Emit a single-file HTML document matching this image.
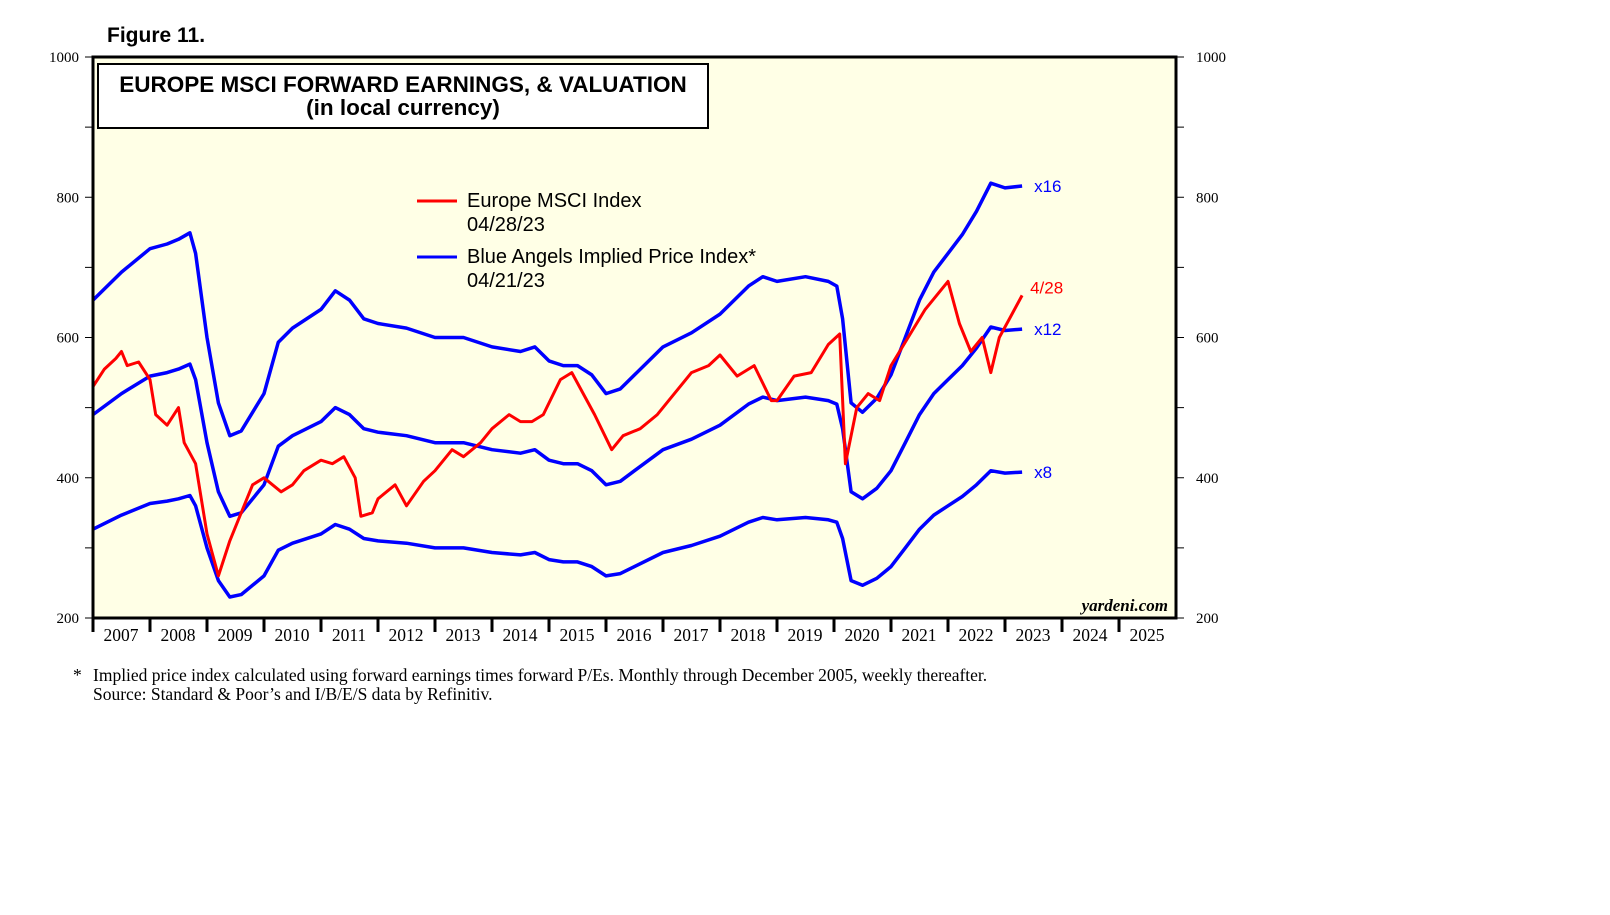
<!DOCTYPE html>
<html><head><meta charset="utf-8">
<style>
body{margin:0;background:#fff;width:1610px;height:910px;overflow:hidden;font-family:"Liberation Sans",sans-serif}
</style></head>
<body>
<svg id="chart" width="1610" height="910" xmlns="http://www.w3.org/2000/svg">
<text x="107" y="42" font-size="21" font-weight="bold">Figure 11.</text>
<rect x="93" y="57" width="1083" height="561" fill="#ffffe6"/>
<g id="grid"></g>
<g id="series"></g>
<rect x="93" y="57" width="1083" height="561" fill="none" stroke="#000" stroke-width="3"/>
<rect x="98" y="64" width="610" height="64" fill="#fff" stroke="#000" stroke-width="2"/>
<text x="403" y="92" font-size="22.5" font-weight="bold" text-anchor="middle">EUROPE MSCI FORWARD EARNINGS, &amp; VALUATION</text>
<text x="403" y="115" font-size="22.5" font-weight="bold" text-anchor="middle">(in local currency)</text>
<g>
<line x1="417" y1="201" x2="457" y2="201" stroke="#f00" stroke-width="3"/>
<text x="467" y="207" font-size="20">Europe MSCI Index</text>
<text x="467" y="231" font-size="20">04/28/23</text>
<line x1="417" y1="257" x2="457" y2="257" stroke="#00f" stroke-width="3"/>
<text x="467" y="263" font-size="20">Blue Angels Implied Price Index*</text>
<text x="467" y="287" font-size="20">04/21/23</text>
</g>
<text x="1168" y="611" font-size="17" font-weight="bold" font-style="italic" font-family="Liberation Serif,serif" text-anchor="end">yardeni.com</text>
<text x="73" y="681" font-size="17.5" font-family="Liberation Serif,serif">*</text>
<text x="93" y="681" font-size="17.5" font-family="Liberation Serif,serif">Implied price index calculated using forward earnings times forward P/Es. Monthly through December 2005, weekly thereafter.</text>
<text x="93" y="700" font-size="17.5" font-family="Liberation Serif,serif">Source: Standard &amp; Poor’s and I/B/E/S data by Refinitiv.</text>
</svg>
<script>
const yTicks=[200,400,600,800,1000];
const years=[2007,2008,2009,2010,2011,2012,2013,2014,2015,2016,2017,2018,2019,2020,2021,2022,2023,2024,2025];
const multiples=[8,12,16];
const multLabels=["x8","x12","x16"];
const blueT=[2007.0,2007.5,2008.0,2008.3,2008.5,2008.7,2008.8,2009.0,2009.2,2009.4,2009.6,2010.0,2010.25,2010.5,2011.0,2011.25,2011.5,2011.75,2012.0,2012.5,2013.0,2013.5,2014.0,2014.5,2014.75,2015.0,2015.25,2015.5,2015.75,2016.0,2016.25,2016.5,2017.0,2017.5,2018.0,2018.5,2018.75,2019.0,2019.5,2019.9,2020.05,2020.15,2020.3,2020.5,2020.75,2021.0,2021.25,2021.5,2021.75,2022.0,2022.25,2022.5,2022.75,2023.0,2023.3];
const blueX12=[490,520,545,550,555,562,540,450,380,345,350,390,445,460,480,500,490,470,465,460,450,450,440,435,440,425,420,420,410,390,395,410,440,455,475,505,515,510,515,510,505,470,380,370,385,410,450,490,520,540,560,585,615,610,612];
const redT=[2007.0,2007.2,2007.4,2007.5,2007.6,2007.8,2008.0,2008.1,2008.3,2008.5,2008.6,2008.8,2009.0,2009.1,2009.2,2009.4,2009.6,2009.8,2010.0,2010.3,2010.5,2010.7,2011.0,2011.2,2011.4,2011.6,2011.7,2011.9,2012.0,2012.3,2012.5,2012.8,2013.0,2013.3,2013.5,2013.8,2014.0,2014.3,2014.5,2014.7,2014.9,2015.2,2015.4,2015.6,2015.8,2016.1,2016.3,2016.6,2016.9,2017.2,2017.5,2017.8,2018.0,2018.3,2018.6,2018.9,2019.0,2019.3,2019.6,2019.9,2020.1,2020.2,2020.4,2020.6,2020.8,2021.0,2021.3,2021.6,2021.8,2022.0,2022.2,2022.4,2022.6,2022.75,2022.9,2023.1,2023.3];
const redV=[530,555,570,580,560,565,540,490,475,500,450,420,320,290,260,310,350,390,400,380,390,410,425,420,430,400,345,350,370,390,360,395,410,440,430,450,470,490,480,480,490,540,550,520,490,440,460,470,490,520,550,560,575,545,560,510,510,545,550,590,605,420,500,520,510,560,600,640,660,680,620,580,600,550,600,630,660];

const X0=93,X1=1176,Y0=618,Y1=57;
const xs=t=>X0+(t-2007)*(X1-X0)/19;
const ys=v=>Y0-(v-200)*(Y0-Y1)/800;
const NS="http://www.w3.org/2000/svg";
const svg=document.getElementById('chart'),grid=document.getElementById('grid'),ser=document.getElementById('series');
function mk(tag,attrs,parent){const e=document.createElementNS(NS,tag);for(const k in attrs)e.setAttribute(k,attrs[k]);parent.appendChild(e);return e;}
for(let v=200;v<=1000;v+=100){
  const y=ys(v);
  const l=mk('line',{x1:X0-8,x2:X0,y1:y,y2:y,stroke:'#000','stroke-width':1},grid);
  
  
  const r=mk('line',{x1:X1,x2:X1+8,y1:y,y2:y,stroke:'#000','stroke-width':1},grid);
  
  
}
yTicks.forEach(v=>{
  const y=ys(v);
  const a=mk('text',{x:X0-14,y:y+5,'font-size':15,'font-family':'Liberation Serif,serif','text-anchor':'end'},svg);a.textContent=v;
  
  
  const b=mk('text',{x:X1+20,y:y+5,'font-size':15,'font-family':'Liberation Serif,serif'},svg);b.textContent=v;
  
  
});
years.forEach(yr=>{
  const x=xs(yr);
  const t=mk('line',{x1:x,x2:x,y1:Y0,y2:Y0+14,stroke:'#000','stroke-width':3},svg);
  
  
  const lb=mk('text',{x:x+28,y:Y0+23,'font-size':17.5,'font-family':'Liberation Serif,serif','text-anchor':'middle'},svg);lb.textContent=yr;
  
  
});
multiples.forEach((m,i)=>{
  const pts=blueT.map((t,j)=>xs(t).toFixed(1)+','+ys(blueX12[j]*m/12).toFixed(1)).join(' ');
  const p=mk('polyline',{points:pts,fill:'none',stroke:'#00f','stroke-width':3.5,'stroke-linejoin':'round'},ser);
  
  
  const last=blueX12[blueX12.length-1]*m/12;
  const tx=mk('text',{x:xs(blueT[blueT.length-1])+12,y:ys(last)+6,'font-size':17,fill:'#00f'},svg);tx.textContent=multLabels[i];
  
  
});
const rp=mk('polyline',{points:redT.map((t,j)=>xs(t).toFixed(1)+','+ys(redV[j]).toFixed(1)).join(' '),fill:'none',stroke:'#f00','stroke-width':3,'stroke-linejoin':'round'},ser);


const rl=mk('text',{x:xs(redT[redT.length-1])+8,y:ys(redV[redV.length-1])-2,'font-size':17,fill:'#f00'},svg);rl.textContent='4/28';


</script>
</body></html>
